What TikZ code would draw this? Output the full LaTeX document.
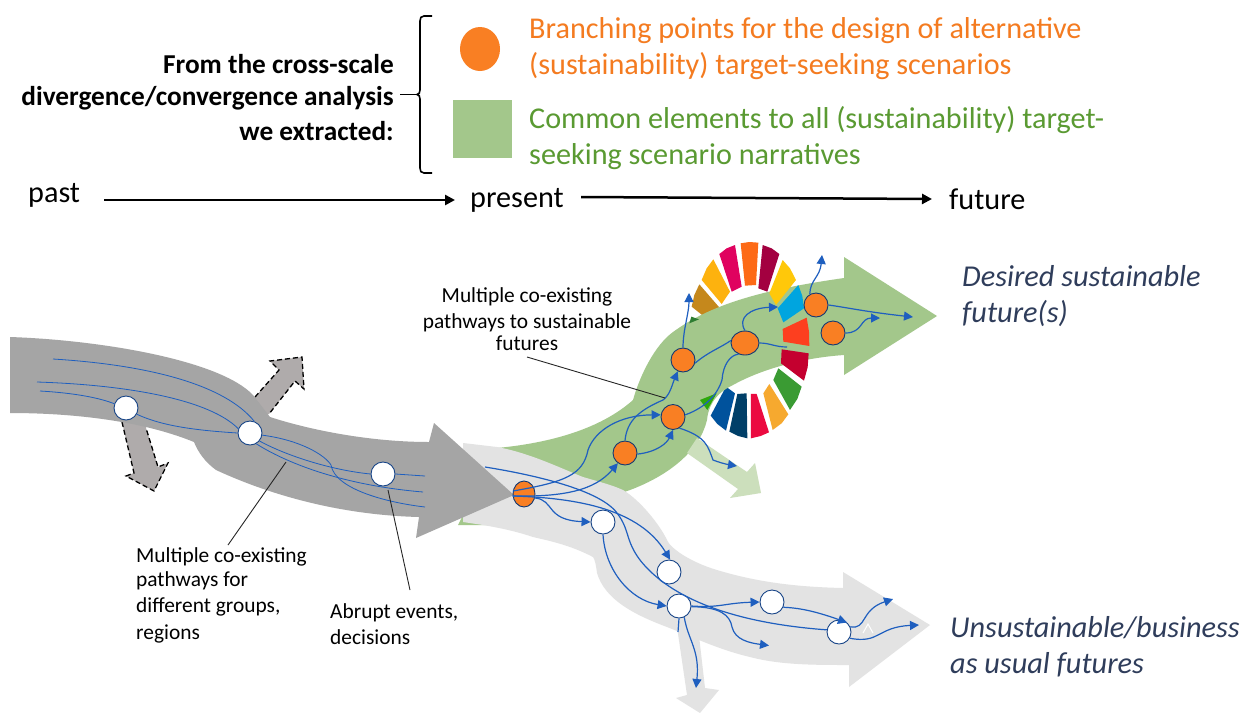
\documentclass[tikz,border=0pt]{standalone}
\usepackage{fontspec}
\setmainfont{Carlito}
\usetikzlibrary{arrows.meta,shapes.geometric}
\definecolor{gdark}{HTML}{A5A5A5}
\definecolor{gdash}{HTML}{AFABAB}
\definecolor{glight}{HTML}{E3E3E3}
\definecolor{gr}{HTML}{A3C78B}
\definecolor{grl}{HTML}{CCDFBC}
\definecolor{org}{HTML}{F97F23}
\definecolor{orgt}{HTML}{F47B20}
\definecolor{grt}{HTML}{5A9A32}
\definecolor{bl}{HTML}{1F5FBF}
\definecolor{ital}{HTML}{2F3D5B}
\tikzset{
 x=1pt,y=-1pt,
 dasharrow/.style={draw=black,line width=1.3pt,dash pattern=on 5pt off 3pt},
 thinb/.style={draw=bl,line width=0.8pt},
 flow/.style={draw=bl,line width=1.2pt},
 flowa/.style={flow,-{Triangle[length=9pt,width=9pt]}},
 wn/.style={circle,draw=bl!70!black,line width=0.9pt,fill=white,minimum size=24pt,inner sep=0pt},
 on/.style={ellipse,draw=bl!60!black,line width=0.9pt,fill=org,minimum width=24pt,minimum height=24pt,inner sep=0pt},
 leader/.style={draw=black!85,line width=0.9pt},
 big/.style={font=\fontsize{30.2}{36}\selectfont,inner sep=0pt,anchor=base west,yshift=-1pt},
 ita/.style={big,text=ital,font=\fontsize{30.3}{36}\selectfont\itshape,yshift=-0.5pt},
 bold/.style={font=\fontsize{27.3}{33}\selectfont\bfseries,inner sep=0pt,anchor=base east},
 small/.style={font=\fontsize{21.4}{26}\selectfont,inner sep=0pt,yshift=-1pt},
 axisline/.style={draw=black,line width=2.5pt,-{Triangle[length=10pt,width=10pt]}},
}
\newcommand{\sdgseg}[2]{\definecolor{tmpc}{HTML}{#1}\fill[tmpc] #2 -- cycle;}
\begin{document}
\begin{tikzpicture}
\useasboundingbox (0,0) rectangle (1247,713);
\fill[white] (0,0) rectangle (1247,713);
% SDG wheel (behind the band)
\begin{scope}[shift={(650pt,-230pt)},x=0.3333pt,y=-0.3333pt]
\sdgseg{C5881C}{(148,163)--(212,237)--(165,262)--(125,230)--(133,195)}
\sdgseg{FDB20E}{(190,88)--(240,185)--(215,222)--(155,150)--(170,115)}
\sdgseg{E0025F}{(255,45)--(275,170)--(245,185)--(208,72)--(230,55)}
\sdgseg{FD6A16}{(272,40)--(298,36)--(325,38)--(318,165)--(285,167)}
\sdgseg{A30040}{(338,45)--(365,55)--(388,72)--(352,185)--(325,175)}
\sdgseg{3A9B33}{(385,415)--(455,470)--(442,507)--(420,540)--(370,450)}
\sdgseg{F6A92F}{(358,462)--(415,553)--(395,580)--(368,600)--(340,490)}
\sdgseg{EB0A40}{(320,492)--(357,607)--(332,618)--(303,625)--(303,492)}
\sdgseg{003F68}{(262,492)--(290,490)--(292,625)--(264,618)--(238,605)}
\sdgseg{00529C}{(228,470)--(255,490)--(228,602)--(202,582)--(182,557)}
\end{scope}
% green band
\fill[gr] (458,525) -- (497,448) .. controls (560,442) and (605,425) .. (633,400) .. controls (640,375) and (655,345) .. (673,332)
 .. controls (710,305) and (760,290) .. (844,278) -- (844,257) -- (937,316) -- (844,375) -- (844,355)
 .. controls (800,358) and (760,370) .. (733,385) .. controls (712,395) and (708,410) .. (707,420)
 .. controls (700,450) and (670,475) .. (630,490) -- (530,525) -- cycle;
% wheel parts over the band
\begin{scope}[shift={(650pt,-230pt)},x=0.3333pt,y=-0.3333pt]
\sdgseg{FFC80A}{(398,90)--(420,115)--(438,150)--(378,225)--(358,190)}
\sdgseg{00A5DF}{(445,165)--(457,198)--(462,235)--(400,277)--(383,235)}
\sdgseg{FD3F1F}{(470,263)--(477,305)--(478,348)--(400,335)--(398,297)}
\sdgseg{C4002F}{(395,358)--(476,370)--(473,412)--(462,452)--(393,400)}
\sdgseg{2DA80C}{(150,510)--(200,490)--(172,540)}
\sdgseg{2E7D32}{(118,280)--(124,260)--(147,268)}
\end{scope}
% light green arrow
\fill[grl] (687,453) -- (697,438) -- (747,472) -- (755,463) -- (761,493) -- (730,498) -- (738,489) -- cycle;
% light gray band
\fill[glight] (463,443) -- (497,447) .. controls (530,453) and (560,468) .. (583,477) .. controls (600,482) and (612,485) .. (623,490)
 .. controls (640,500) and (660,525) .. (667,540) .. controls (670,548) and (690,562) .. (717,570) .. controls (760,583) and (800,587) .. (843,588)
 -- (843,572) -- (930,625) -- (849,687) -- (849,665) .. controls (815,665) and (780,665) .. (750,657)
 .. controls (720,650) and (695,638) .. (667,627) .. controls (635,615) and (605,600) .. (597,573) .. controls (596,565) and (595,560) .. (593,557)
 .. controls (570,545) and (550,541) .. (533,537) .. controls (515,531) and (500,528) .. (483,525) -- (463,522) -- cycle;
\fill[glight] (677,627) -- (698,627) -- (705,688) -- (719,690) -- (700,713) -- (676,698) -- (687,695) -- cycle;
% dashed arrows (under the dark band)
\fill[gdash] (255,397) -- (279,370) -- (270,361) -- (302,357) -- (304,389) -- (295,381) -- (269,414) -- (250,415) -- cycle;
\draw[dasharrow] (255,397) -- (279,370) -- (270,361) -- (302,357) -- (304,389) -- (295,381) -- (269,414);
\fill[gdash] (122,422) -- (134,473) -- (126,476) -- (154,491) -- (168,463) -- (158,467) -- (146,428) -- (146,410) -- (122,410) -- cycle;
\draw[dasharrow] (122,422) -- (134,473) -- (126,476) -- (154,491) -- (168,463) -- (158,467) -- (146,428);
% dark gray band
\fill[gdark] (10,337) .. controls (100,340) and (220,360) .. (253,395) -- (270,417)
 .. controls (310,430) and (370,442) .. (429,442) -- (434,423) -- (514,495) -- (416,538) -- (419,517)
 .. controls (340,515) and (270,495) .. (216,470) .. controls (205,462) and (198,452) .. (194,442)
 .. controls (140,420) and (70,413) .. (10,413) -- cycle;
% nodes
\node[wn] (a) at (126,408) {};
\node[wn] (b) at (250,433) {};
\node[wn] (c) at (383,474) {};
\node[on,minimum width=22pt,minimum height=26pt] (o7) at (524,494) {};
\node[on] (o6) at (625,453) {};
\node[on,minimum height=25pt] (o1) at (673,417) {};
\node[on] (o2) at (683,360) {};
\node[on,minimum width=28pt] (o3) at (745,343) {};
\node[on] (o4) at (816,305) {};
\node[on] (o5) at (833,333) {};
\node[wn] (w1) at (603,522) {};
\node[wn] (w2) at (669,572) {};
\node[wn] (w3) at (679,606) {};
\node[wn] (w4) at (772,602) {};
\node[wn] (w5) at (839,632) {};
% free ends
\coordinate (s1) at (53,359); \coordinate (s2) at (37,382); \coordinate (s3) at (40,391);
\coordinate (e1) at (425,507); \coordinate (e2) at (425,476); \coordinate (e3) at (423,492);
\coordinate (fa) at (769,645.5); \coordinate (fb) at (893,599); \coordinate (fc) at (919,625);
\coordinate (fd) at (696,688); \coordinate (fe) at (737,466); \coordinate (ff) at (689,293);
\coordinate (fg) at (822,255); \coordinate (fh) at (913,317); \coordinate (fi) at (787,347);
\coordinate (st) at (485,467);
% thin lines in the dark band
\draw[thinb] (s1) .. controls (150,365) and (225,385) .. (b.70);
\draw[thinb] (s2) .. controls (130,385) and (210,400) .. (b.160);
\draw[thinb] (s3) .. controls (75,393) and (100,398) .. (a.160);
\draw[thinb] (a.-30) .. controls (160,425) and (190,430) .. (b.180);
\draw[thinb] (b.-10) .. controls (300,440) and (325,455) .. (331,465) .. controls (335,490) and (390,503) .. (e1);
\draw[thinb] (b.-40) .. controls (285,455) and (330,470) .. (c.180);
\draw[thinb] (c.0) -- (e2);
\draw[thinb] (b.-60) .. controls (285,462) and (340,485) .. (e3);
% flows
\draw[flow] (st) .. controls (535,475) and (600,490) .. (617,513) .. controls (630,530) and (625,540) .. (640,560) .. controls (665,592) and (720,622) .. (w5.170);
\draw[flowa] (o7.165) .. controls (565,482) and (583,475) .. (588,450) .. controls (595,430) and (620,415) .. (o1.170);
\draw[flowa] (o7.190) .. controls (565,497) and (595,490) .. (o6.235);
\draw[flowa] (o7.190) .. controls (580,498) and (640,510) .. (w2.85);
\draw[flowa] (o7.-20) .. controls (555,500) and (545,520) .. (w1.180);
\draw[flowa] (w1.-90) .. controls (605,570) and (630,600) .. (w3.180);
\draw[flowa] (w3.0) .. controls (720,608) and (725,603) .. (w4.180);
\draw[flowa] (w3.-3) .. controls (720,607) and (730,615) .. (732,627) .. controls (735,640) and (750,643) .. (fa);
\draw[flowa] (w4.-25) .. controls (803,608) and (820,613) .. (w5.50);
\draw[flowa] (w5.25) .. controls (867,630) and (860,610) .. (fb);
\draw[flowa] (w5.-30) .. controls (880,644) and (877,627) .. (fc);
\draw[flow] (w3.-90) -- (678,632);
\draw[flowa] (w3.-65) .. controls (688,640) and (700,650) .. (fd);
\draw[flowa] (o6.-5) .. controls (657,452) and (667,443) .. (o1.-90);
\draw[flowa] (o6.90) .. controls (627,420) and (640,410) .. (663,400) .. controls (670,395) and (672,385) .. (o2.-115);
\draw[flowa] (o1.-60) .. controls (707,437) and (708,447) .. (713,460) .. controls (718,462) and (725,464) .. (fe);
\draw[flow] (o1.10) .. controls (707,407) and (718,393) .. (722,380) .. controls (723,365) and (730,355) .. (o3.-120);
\draw[flow] (o2.-15) .. controls (708,352) and (720,348) .. (o3.170);
\draw[flowa] (o2.90) .. controls (683,330) and (689,313) .. (ff);
\draw[flowa] (o3.90) .. controls (737,318) and (750,308) .. (778,307);
\draw[flow] (o3.0) .. controls (770,343) and (775,347) .. (fi);
\draw[flowa] (o4.120) .. controls (810,280) and (820,277) .. (fg);
\draw[flowa] (o4.0) .. controls (850,308) and (867,312) .. (fh);
\draw[flowa] (o5.0) .. controls (863,333) and (860,318) .. (880,318);
\draw[white,line width=1pt] (863,633) -- (868,624) -- (873,633);
% leaders
\coordinate (ll1) at (228,545); \coordinate (ll1s) at (286,462);
\coordinate (ll2) at (410,590); \coordinate (ll2s) at (388,490);
\coordinate (ll3) at (527,357); \coordinate (ll3s) at (665,398);
\draw[leader] (ll1s) -- (ll1);
\draw[leader] (ll2s) -- (ll2);
\draw[leader] (ll3) -- (ll3s);
% legend
\draw[line width=1.6pt] (432,16) -- (424,16) .. controls (421,16) and (420,18) .. (420,21) -- (420,90) .. controls (420,93) and (419,94) .. (417,94.5) .. controls (419,95) and (420,96) .. (420,99) -- (420,168) .. controls (420,171) and (421,173) .. (424,173) -- (432,173);
\draw[line width=1.6pt] (400,94.5) -- (417,94.5);
\node[ellipse,fill=org,minimum width=40pt,minimum height=44pt,inner sep=0pt] (lc) at (480,49) {};
\node[fill=gr,minimum width=59pt,minimum height=58pt,inner sep=0pt] (lr) at (482.5,128.5) {};
% texts
\node[bold] (t1) at (394,73) {From the cross-scale};
\node[bold] (t2) at (394,105) {divergence/convergence analysis};
\node[bold] (t3) at (394,140) {we extracted:};
\node[big,text=orgt] (t4) at (529,37) {Branching points for the design of alternative};
\node[big,text=orgt] (t5) at (529,73) {(sustainability) target-seeking scenarios};
\node[big,text=grt] (t6) at (529,127) {Common elements to all (sustainability) target-};
\node[big,text=grt] (t7) at (529,163) {seeking scenario narratives};
\node[big] (past) at (28,201) {past};
\node[big] (pres) at (470,206) {present};
\node[big] (fut) at (949,208) {future};
\draw[axisline] (104,200) -- (455,200);
\draw[axisline] (581,197) -- (932,199);
\node[ita] (d1) at (962,285) {Desired sustainable};
\node[ita] (d2) at (962,321) {future(s)};
\node[ita] (u1) at (950,636) {Unsustainable/business};
\node[ita] (u2) at (950,672) {as usual futures};
\node[small,anchor=base] (m1) at (527,301) {Multiple co-existing};
\node[small,anchor=base] (m2) at (527,327) {pathways to sustainable};
\node[small,anchor=base] (m3) at (527,349) {futures};
\node[small,anchor=base west] (n1) at (136,561) {Multiple co-existing};
\node[small,anchor=base west] (n2) at (136,585) {pathways for};
\node[small,anchor=base west] (n3) at (136,611) {different groups,};
\node[small,anchor=base west] (n4) at (136,638) {regions};
\node[small,anchor=base west] (p1) at (330,617) {Abrupt events,};
\node[small,anchor=base west] (p2) at (330,643) {decisions};
\end{tikzpicture}
\end{document}
